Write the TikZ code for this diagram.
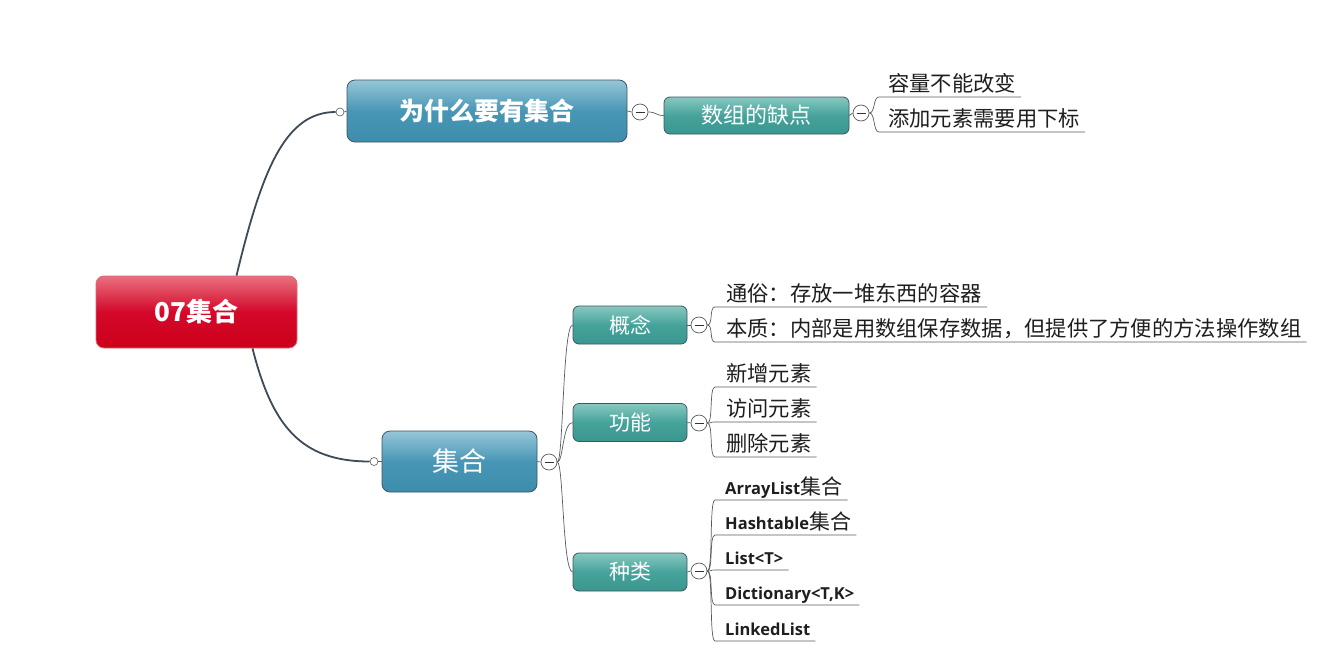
\documentclass[tikz,border=0pt]{standalone}
\usepackage{fontspec}
\newfontfamily\cjk{Noto Sans CJK SC}
\newfontfamily\lat{Open Sans}
\definecolor{rootT}{HTML}{E8707F}
\definecolor{rootM}{HTML}{D4082A}
\definecolor{rootB}{HTML}{CC001A}
\definecolor{rootL}{HTML}{D86A78}
\definecolor{blueT}{HTML}{96C6D8}
\definecolor{blueM}{HTML}{4896B5}
\definecolor{blueB}{HTML}{3E8DAD}
\definecolor{tealT}{HTML}{88C8C0}
\definecolor{tealM}{HTML}{45A39B}
\definecolor{tealB}{HTML}{3A978F}
\definecolor{boxL}{HTML}{3F5565}
\definecolor{mainL}{HTML}{3C4B57}
\definecolor{thinL}{HTML}{555B60}
\definecolor{txt}{HTML}{1E1E1E}
\begin{document}
\begin{tikzpicture}[x=1pt,y=-1pt,
  box/.style={rounded corners=6pt, draw=boxL, line width=0.8pt, inner sep=0pt, text=white},
  rootbox/.style={box, rounded corners=8pt, draw=rootL, top color=rootT, bottom color=rootB, middle color=rootM,
     minimum width=201pt, minimum height=72pt, font=\cjk\bfseries\fontsize{26}{30}\selectfont},
  bluebox/.style={box, rounded corners=8pt, top color=blueT, bottom color=blueB, middle color=blueM},
  tealbox/.style={box, top color=tealT, bottom color=tealB, middle color=tealM,
     minimum width=114pt, minimum height=38pt, font=\cjk\fontsize{21}{25}\selectfont},
  dot/.style={circle, draw=thinL, fill=white, line width=0.6pt, minimum size=8pt, inner sep=0pt},
  col/.style={circle, draw=thinL, fill=white, line width=0.7pt, minimum size=16pt, inner sep=0pt,
     path picture={\draw[black!80, line width=1pt] ([xshift=-4.5pt]path picture bounding box.center) -- ([xshift=4.5pt]path picture bounding box.center);}},
  mainedge/.style={draw=mainL, line width=1.8pt},
  thinedge/.style={draw=thinL, line width=0.7pt},
  leaf/.style={anchor=south west, inner xsep=0pt, inner ysep=2pt, text depth=3pt, text=txt, font=\cjk\fontsize{21.3}{25}\selectfont},
  latleaf/.style={anchor=south west, inner xsep=0pt, inner ysep=2pt, text depth=3pt, text=txt, font=\lat\bfseries\fontsize{16.5}{20}\selectfont},
  ul/.style={draw=thinL, line width=0.7pt}
]
\useasboundingbox[fill=white] (0,0) rectangle (1344,664);

% main nodes
\node[rootbox] (root) at (196.5,312) {07集合};
\node[bluebox, minimum width=280pt, minimum height=62pt, font=\cjk\bfseries\fontsize{25}{30}\selectfont] (why) at (487,111) {为什么要有集合};
\node[bluebox, minimum width=155pt, minimum height=61pt, font=\cjk\fontsize{27}{32}\selectfont] (cj) at (459.5,461.5) {集合};
\node[tealbox, minimum width=185pt, minimum height=37pt, font=\cjk\fontsize{22}{26}\selectfont] (arr) at (756.5,115.5) {数组的缺点};
\node[tealbox] (gn) at (630,325) {概念};
\node[tealbox] (fn) at (630,422.5) {功能};
\node[tealbox] (zl) at (630,572) {种类};

% small connector dots
\node[dot] (d1) at (340,112) {};
\node[dot] (d2) at (374,461.5) {};
\node[col] (c1) at (640,112) {};
\node[col] (c2) at (861,113) {};
\node[col] (cc) at (549,462) {};
\node[col] (c3) at (699,325) {};
\node[col] (c4) at (699,423) {};
\node[col] (c5) at (699,571) {};

% main edges
\draw[mainedge] ([xshift=40pt]root.north) .. controls (262,170) and (285,112) .. (d1.west);
\draw[mainedge] ([xshift=56pt]root.south) .. controls (272,425) and (300,461.5) .. (d2.west);
\draw[thinedge] (d1.east) -- (why.west);
\draw[thinedge] (d2.east) -- (cj.west);
\draw[thinedge] (why.east) -- (c1.west);
\draw[thinedge] (c1.east) .. controls +(8,0) and +(-8,0) .. (arr.west);
\draw[thinedge] (arr.east) -- (c2.west);
\draw[thinedge] (cj.east) -- (cc.west);
\foreach \b in {gn,fn,zl}
  \draw[thinedge] (cc.east) .. controls +(6,0) and +(-10,0) .. (\b.west);
\draw[thinedge] (gn.east) -- (c3.west);
\draw[thinedge] (fn.east) -- (c4.west);
\draw[thinedge] (zl.east) -- (c5.west);

% leaves of 数组的缺点
\node[leaf] (a1) at (888,97) {容量不能改变};
\node[leaf] (a2) at (888,132) {添加元素需要用下标};
% leaves of 概念
\node[leaf] (g1) at (726,307) {通俗：存放一堆东西的容器};
\node[leaf] (g2) at (726,342) {本质：内部是用数组保存数据，但提供了方便的方法操作数组};
% leaves of 功能
\node[leaf] (f1) at (726,387) {新增元素};
\node[leaf] (f2) at (726,422) {访问元素};
\node[leaf] (f3) at (726,457) {删除元素};
% leaves of 种类
\node[latleaf] (z1) at (725,500) {ArrayList{\cjk\mdseries\fontsize{21}{24}\selectfont 集合}};
\node[latleaf] (z2) at (725,535) {Hashtable{\cjk\mdseries\fontsize{21}{24}\selectfont 集合}};
\node[latleaf] (z3) at (725,570) {List<T>};
\node[latleaf] (z4) at (725,605) {Dictionary<T,K>};
\node[latleaf] (z5) at (725,641) {LinkedList};

\foreach \l in {a1,a2}
  \draw[ul] (c2.east) .. controls +(6,0) and +(-6,0) .. ([xshift=-9pt]\l.south west) -- ([xshift=5pt]\l.south east);
\foreach \l in {g1,g2}
  \draw[ul] (c3.east) .. controls +(6,0) and +(-6,0) .. ([xshift=-11pt]\l.south west) -- ([xshift=5pt]\l.south east);
\foreach \l in {f1,f2,f3}
  \draw[ul] (c4.east) .. controls +(6,0) and +(-6,0) .. ([xshift=-11pt]\l.south west) -- ([xshift=5pt]\l.south east);
\foreach \l in {z1,z2,z3,z4,z5}
  \draw[ul] (c5.east) .. controls +(6,0) and +(-6,0) .. ([xshift=-10pt]\l.south west) -- ([xshift=5pt]\l.south east);
\end{tikzpicture}
\end{document}
